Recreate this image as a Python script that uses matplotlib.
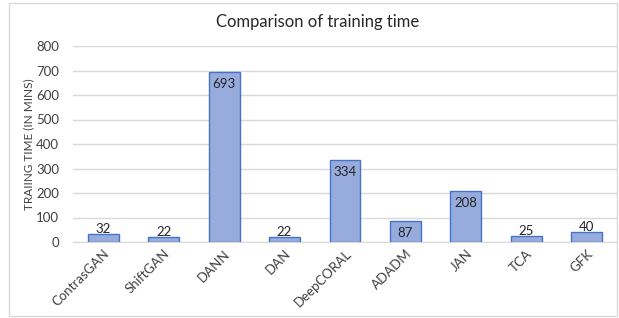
import matplotlib.pyplot as plt
import numpy as np
from matplotlib.patches import Rectangle

methods = ['ContrasGAN', 'ShiftGAN', 'DANN', 'DAN', 'DeepCORAL', 'ADADM', 'JAN', 'TCA', 'GFK']
train_mins = [32, 22, 693, 22, 334, 87, 208, 25, 40]
# labels drawn inside the bar top for these
inside = [False, False, True, False, True, True, True, False, False]

plt.rcParams['font.family'] = ['Lato', 'DejaVu Sans']

fig = plt.figure(figsize=(6.19, 3.18), dpi=100)
fig.patches.append(Rectangle((9 / 619, 2 / 318), 608 / 619, 313 / 318, transform=fig.transFigure,
                             fill=False, edgecolor='#d9d9d9', linewidth=1))
ax = fig.add_axes([73 / 619, 1 - 242 / 318, 544 / 619, 196 / 318])

x = np.arange(len(methods))
ax.bar(x, train_mins, width=0.51, color='#97acdd', edgecolor='#4472c4', linewidth=1, zorder=3)

for xi, v, ins in zip(x, train_mins, inside):
    if ins:
        ax.text(xi, v - 24, str(v), ha='center', va='top', fontsize=9.5, color='#262626', zorder=4)
    else:
        ax.text(xi, v - 5, str(v), ha='center', va='bottom', fontsize=9.5, color='#262626', zorder=4)

ax.set_xlim(-0.5, len(methods) - 0.5)
ax.set_ylim(0, 800)
ax.set_yticks(range(0, 801, 100))
ax.yaxis.grid(True, color='#d9d9d9', linewidth=1, zorder=0)
for s in ['top', 'right', 'left']:
    ax.spines[s].set_visible(False)
ax.spines['bottom'].set_color('#d9d9d9')
ax.tick_params(axis='both', length=0, labelsize=9.5, labelcolor='#404040')
ax.tick_params(axis='x', pad=4)
ax.tick_params(axis='y', pad=10)
ax.set_xticks(x)
ax.set_xticklabels(methods, rotation=45, ha='right', rotation_mode='anchor')
ax.set_ylabel('TRAIING TIME (IN MINS)', fontsize=8.5, color='#404040', labelpad=1)
fig.text(318 / 619, 1 - 22 / 318, 'Comparison of training time', fontsize=12, color='#262626',
         ha='center', va='center')

fig.savefig('out.png', dpi=100)
